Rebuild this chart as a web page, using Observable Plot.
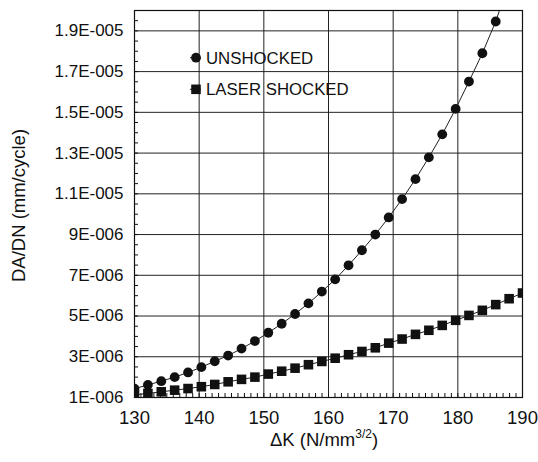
<!DOCTYPE html>
<html>
<head>
<meta charset="utf-8">
<script src="https://cdn.jsdelivr.net/npm/d3@7"></script>
<script src="https://cdn.jsdelivr.net/npm/@observablehq/plot@0.6"></script>
<style>
  html, body { margin: 0; padding: 0; background: #fff; }
  #chart { width: 538px; height: 462px; }
</style>
</head>
<body>
<div id="chart"></div>
<script>
// ---- data ----
const deltaK = [130, 132.07, 134.14, 136.21, 138.28, 140.34, 142.41, 144.48, 146.55, 148.62,
                150.69, 152.76, 154.83, 156.90, 158.97, 161.03, 163.10, 165.17, 167.24, 169.31,
                171.38, 173.45, 175.52, 177.59, 179.66, 181.72, 183.79, 185.86, 187.93, 190];
const unshocked = [1.43e-6, 1.62e-6, 1.80e-6, 2.00e-6, 2.23e-6, 2.49e-6, 2.78e-6, 3.06e-6, 3.40e-6, 3.77e-6,
                   4.18e-6, 4.62e-6, 5.10e-6, 5.62e-6, 6.20e-6, 6.80e-6, 7.49e-6, 8.23e-6, 9.00e-6, 9.84e-6,
                   1.074e-5, 1.172e-5, 1.279e-5, 1.392e-5, 1.517e-5, 1.651e-5, 1.790e-5, 1.946e-5, 2.14e-5];
const laserShocked = [1.13e-6, 1.20e-6, 1.28e-6, 1.36e-6, 1.44e-6, 1.53e-6, 1.64e-6, 1.77e-6, 1.89e-6, 2.00e-6,
                      2.15e-6, 2.29e-6, 2.44e-6, 2.61e-6, 2.77e-6, 2.93e-6, 3.10e-6, 3.26e-6, 3.44e-6, 3.67e-6,
                      3.87e-6, 4.10e-6, 4.30e-6, 4.54e-6, 4.79e-6, 5.03e-6, 5.28e-6, 5.56e-6, 5.85e-6, 6.13e-6];
const seriesNames = ["UNSHOCKED", "LASER SHOCKED"];
const xTicks = [130, 140, 150, 160, 170, 180, 190];
const yTicks = [1e-6, 3e-6, 5e-6, 7e-6, 9e-6, 1.1e-5, 1.3e-5, 1.5e-5, 1.7e-5, 1.9e-5];
const yTickLabels = ["1E-006", "3E-006", "5E-006", "7E-006", "9E-006",
                     "1.1E-005", "1.3E-005", "1.5E-005", "1.7E-005", "1.9E-005"];
const xTitle = "\u0394K (N/mm";
const xTitleSup = "3/2";
const yTitle = "DA/DN (mm/cycle)";

// ---- build ----
const unData = unshocked.map((v, i) => ({x: deltaK[i], y: v}));
const lsData = laserShocked.map((v, i) => ({x: deltaK[i], y: v}));
const xMinor = d3.range(130, 190.5, 1);
const yMinor = d3.range(0, 39).map(i => 1e-6 + i * 5e-7);
const font = "'Liberation Sans', Arial, Helvetica, sans-serif";
const ink = "#111";

const W = 538, H = 462, mL = 134, mR = 16, mT = 10, mB = 65;
const rCircle = 4.9, rSquare = 5.4;

const chart = Plot.plot({
  width: W, height: H,
  marginLeft: mL, marginRight: mR, marginTop: mT, marginBottom: mB,
  style: {fontFamily: font, background: "#fff", color: ink, overflow: "visible"},
  x: {domain: [130, 190], label: null},
  y: {domain: [1e-6, 2e-5], label: null},
  marks: [
    Plot.ruleX(xTicks, {stroke: "#222", strokeWidth: 1}),
    Plot.ruleY(yTicks, {stroke: "#222", strokeWidth: 1}),
    Plot.axisX({ticks: xMinor, tickSize: -4, tickFormat: () => "", stroke: ink, strokeWidth: 1}),
    Plot.axisY({ticks: yMinor, tickSize: -4, tickFormat: () => "", stroke: ink, strokeWidth: 1}),
    Plot.axisX({ticks: xTicks, tickSize: 0, tickPadding: 13, fontSize: 18.5, tickFormat: d => String(d), fill: ink, label: null}),
    Plot.axisY({ticks: yTicks, tickSize: 0, tickPadding: 11, fontSize: 17,
                tickFormat: d => yTickLabels[yTicks.indexOf(d)], fill: ink, label: null}),
    Plot.line(unData, {x: "x", y: "y", stroke: "#222", strokeWidth: 1, clip: true}),
    Plot.line(lsData, {x: "x", y: "y", stroke: "#222", strokeWidth: 1, clip: true}),
    Plot.dot(unData, {x: "x", y: "y", r: rCircle, fill: ink, stroke: null, symbol: "circle", clip: true}),
    Plot.dot(lsData, {x: "x", y: "y", r: rSquare, fill: ink, stroke: null, symbol: "square", clip: true}),
    Plot.frame({stroke: ink, strokeWidth: 1.2})
  ]
});

document.getElementById("chart").appendChild(chart);

// ---- axis titles and legend (text) ----
const svg = d3.select(chart);
const xt = svg.append("text")
  .attr("x", mL + (W - mL - mR) / 2 - 4)
  .attr("y", 446)
  .attr("text-anchor", "middle")
  .attr("font-family", font)
  .attr("font-size", 18.5)
  .attr("fill", ink);
xt.append("tspan").text(xTitle);
xt.append("tspan").attr("dy", -8).attr("font-size", 12).text(xTitleSup);
xt.append("tspan").attr("dy", 8).text(")");

svg.append("text")
  .attr("transform", `translate(25,${(mT + H - mB) / 2 + 2}) rotate(-90)`)
  .attr("text-anchor", "middle")
  .attr("font-family", font)
  .attr("font-size", 18.5)
  .attr("fill", ink)
  .text(yTitle);

const legend = svg.append("g").attr("font-family", font).attr("font-size", 16.8)
  .attr("fill", ink).attr("text-anchor", "start");
const legendRows = [{name: seriesNames[0], symbol: d3.symbolCircle, r: rCircle, cy: 57.7},
                    {name: seriesNames[1], symbol: d3.symbolSquare, r: rSquare, cy: 89.3}];
legendRows.forEach(row => {
  legend.append("line").attr("x1", 190).attr("x2", 201).attr("y1", row.cy).attr("y2", row.cy)
    .attr("stroke", "#222").attr("stroke-width", 1);
  legend.append("path").attr("transform", `translate(196,${row.cy})`)
    .attr("d", d3.symbol(row.symbol, Math.PI * row.r * row.r)()).attr("fill", ink);
  legend.append("text").attr("x", 206).attr("y", row.cy).attr("dy", "0.36em")
    .attr("text-anchor", "start").text(row.name);
});
</script>
</body>
</html>
